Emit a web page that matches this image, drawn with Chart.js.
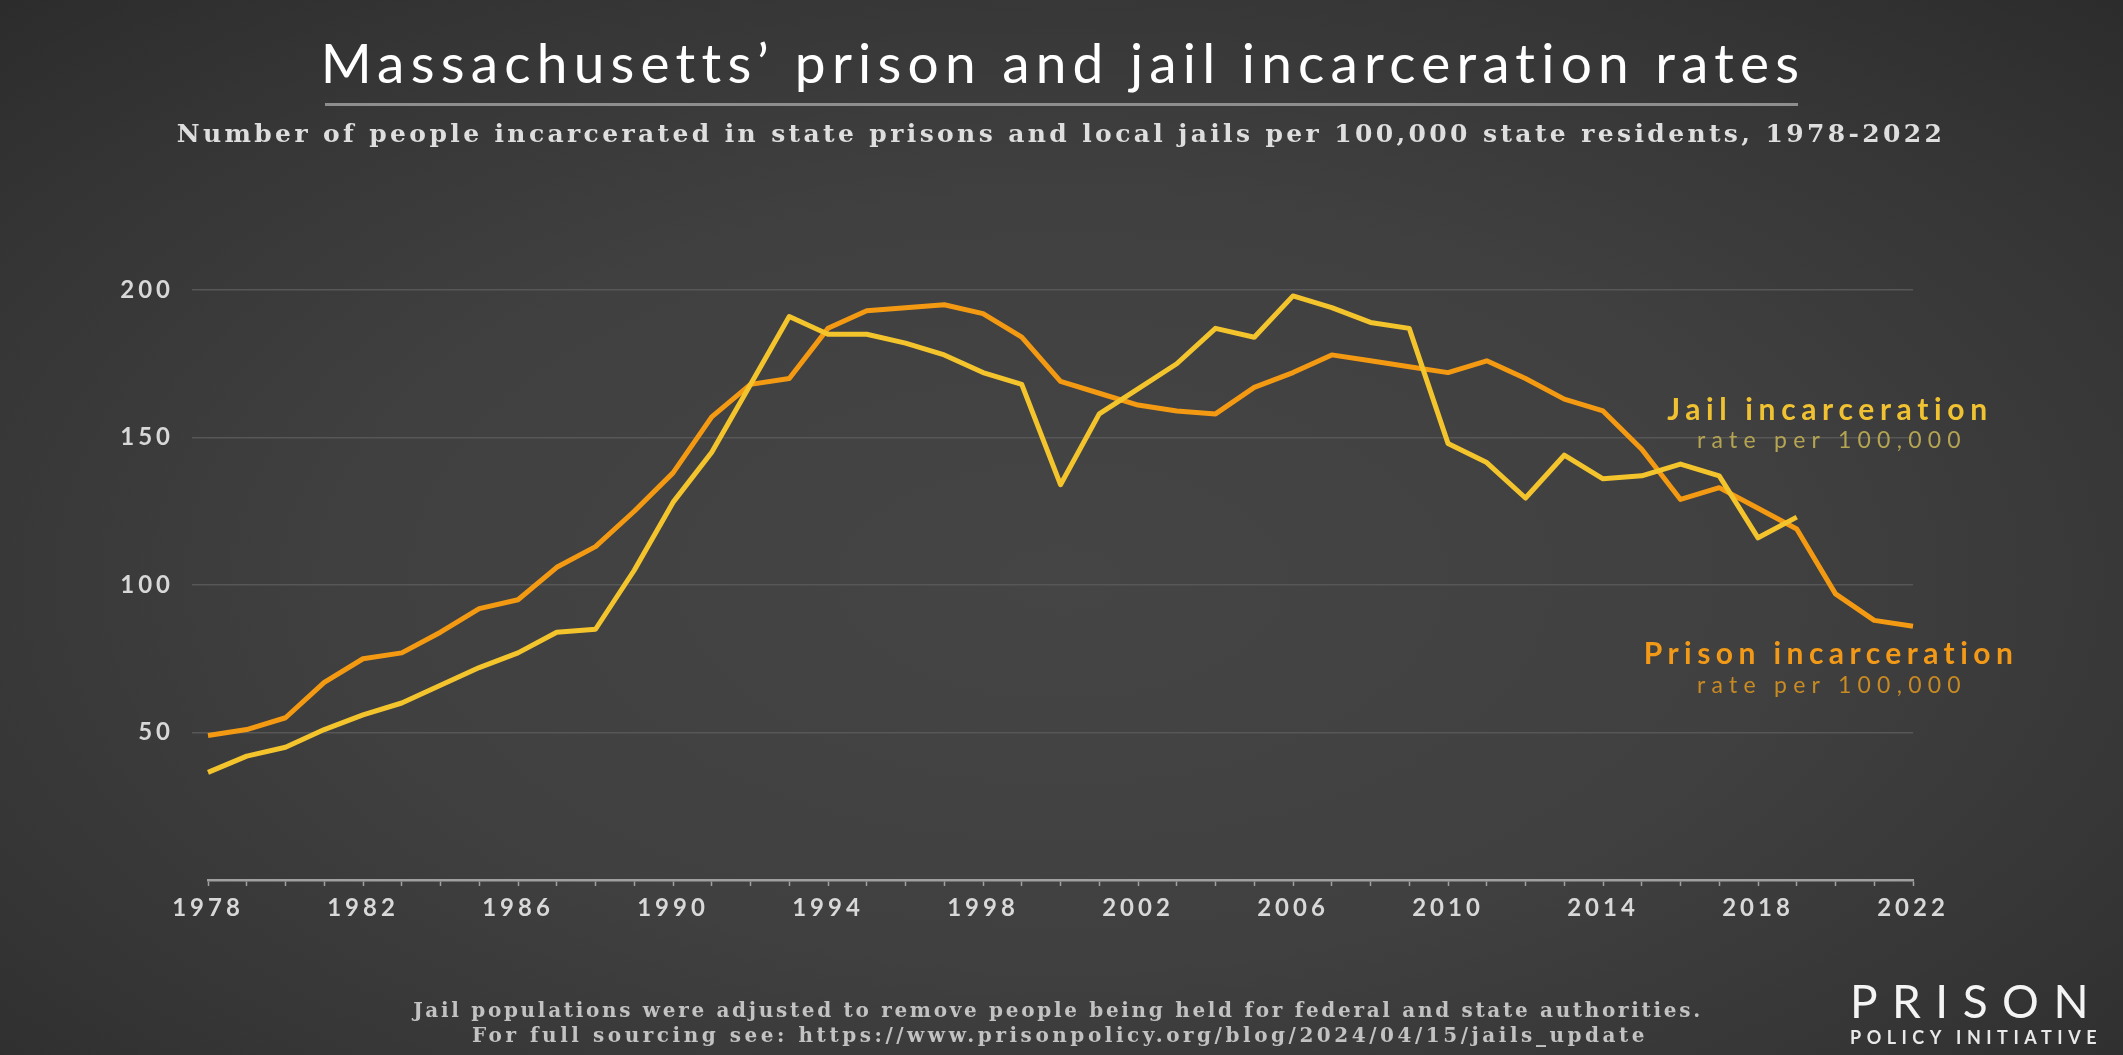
<!DOCTYPE html>
<html>
<head>
<meta charset="utf-8">
<script src="https://cdn.jsdelivr.net/npm/chart.js@4/dist/chart.umd.min.js"></script>
<style>
  html, body { margin: 0; padding: 0; }
  body {
    width: 2123px; height: 1055px; overflow: hidden; position: relative;
    background: radial-gradient(ellipse 75% 80% at 50% 55%, #454545 0%, #404040 45%, #353535 75%, #2a2a2a 100%);
    font-family: Lato, "Noto Sans", sans-serif;
  }
  #chart { position: absolute; left: 0; top: 0; }
  .txt { position: absolute; white-space: nowrap; line-height: 1; }
  .mid { transform: translateX(-50%); }
  #title { left: 1063px; top: 35px; font-size: 55px; color: #ffffff; }
  #rule { position: absolute; left: 325px; top: 103px; width: 1473px; height: 3px; background: #8e8e8e; }
  #subtitle { left: 1061px; top: 121px; font-family: "DejaVu Serif", serif; font-weight: bold; font-size: 25px; color: #dedede; }
  .note { font-family: "DejaVu Serif", serif; font-weight: bold; font-size: 20px; color: #c2c2c2; }
  #note1 { left: 1058px; top: 1000px; }
  #note2 { left: 1060px; top: 1025px; }
  .series { font-size: 30px; font-weight: bold; }
  .rate { font-size: 23px; }
  #jailName { left: 1830px; top: 393px; color: #f0c232; }
  #jailRate { left: 1832px; top: 428px; color: #b5a552; }
  #prisonName { left: 1831px; top: 637px; color: #f29a18; }
  #prisonRate { left: 1832px; top: 673px; color: #c88a22; }
  #logo1 { left: 1850px; top: 978px; font-size: 46px; color: #f4f4f4; }
  #logo2 { left: 1850px; top: 1028px; font-size: 18px; font-weight: bold; color: #e8e8e8; }
</style>
</head>
<body>
<canvas id="chart" width="2123" height="1055"></canvas>

<div id="title" class="txt mid">Massachusetts’ prison and jail incarceration rates</div>
<div id="rule"></div>
<div id="subtitle" class="txt mid">Number of people incarcerated in state prisons and local jails per 100,000 state residents, 1978-2022</div>

<div id="jailName" class="txt mid series">Jail incarceration</div>
<div id="jailRate" class="txt mid rate">rate per 100,000</div>
<div id="prisonName" class="txt mid series">Prison incarceration</div>
<div id="prisonRate" class="txt mid rate">rate per 100,000</div>

<div id="note1" class="txt mid note">Jail populations were adjusted to remove people being held for federal and state authorities.</div>
<div id="note2" class="txt mid note">For full sourcing see: https://www.prisonpolicy.org/blog/2024/04/15/jails_update</div>

<div id="logo1" class="txt">PRISON</div>
<div id="logo2" class="txt">POLICY INITIATIVE</div>

<script>
// rates per 100,000 residents
const years = [
  1978, 1979, 1980, 1981, 1982, 1983, 1984, 1985, 1986, 1987, 1988, 1989,
  1990, 1991, 1992, 1993, 1994, 1995, 1996, 1997, 1998, 1999, 2000, 2001,
  2002, 2003, 2004, 2005, 2006, 2007, 2008, 2009, 2010, 2011, 2012, 2013,
  2014, 2015, 2016, 2017, 2018, 2019, 2020, 2021, 2022
];
const prisonRates = [
  49, 51, 55, 67, 75, 77, 84, 92, 95, 106, 113, 125,
  138, 157, 168, 170, 187, 193, 194, 195, 192, 184, 169, 165,
  161, 159, 158, 167, 172, 178, 176, 174, 172, 176, 170, 163,
  159, 146, 129, 133, 126, 119, 97, 88, 86
];
const jailRates = [
  36.5, 42, 45, 51, 56, 60, 66, 72, 77, 84, 85, 105,
  128, 145, 168, 191, 185, 185, 182, 178, 172, 168, 134, 158,
  166.5, 175, 187, 184, 198, 194, 189, 187, 148, 141.5, 129.5, 144,
  136, 137, 141, 137, 116, 123, null, null, null
];
const yTicks = [0, 50, 100, 150, 200];

const JAIL_COLOR = "#f4c42c";
const PRISON_COLOR = "#f39a12";
const LABEL_COLOR = "#d8d8d8";

// stretch text to a given width with letter spacing
function fitWidth(id, width) {
  const el = document.getElementById(id);
  el.style.letterSpacing = "0px";
  const w = el.getBoundingClientRect().width;
  el.style.letterSpacing = ((width - w) / el.textContent.length).toFixed(2) + "px";
}

fitWidth("title", 1484);
fitWidth("subtitle", 1769);
fitWidth("note1", 1290);
fitWidth("note2", 1176);
fitWidth("jailName", 326);
fitWidth("jailRate", 270);
fitWidth("prisonName", 375);
fitWidth("prisonRate", 270);
fitWidth("logo1", 253);
fitWidth("logo2", 252);

// wide tracking on the axis numbers; canvas resets its state on resize,
// so set it again right before layout and drawing
const trackingPlugin = {
  id: "tracking",
  beforeUpdate(chart) {
    chart.ctx.letterSpacing = "4px";
  },
  beforeDraw(chart) {
    chart.ctx.letterSpacing = "4px";
  },
};

const ctx = document.querySelector("#chart");
const tickFont = { family: "Lato", size: 24, weight: "bold" };

new Chart(ctx, {
  type: "line",
  plugins: [trackingPlugin],
  data: {
    labels: years,
    datasets: [
      {
        label: "Jail incarceration",
        data: jailRates,
        borderColor: JAIL_COLOR,
        borderWidth: 5,
        pointRadius: 0,
        tension: 0,
        borderJoinStyle: "round",
      },
      {
        label: "Prison incarceration",
        data: prisonRates,
        borderColor: PRISON_COLOR,
        borderWidth: 5,
        pointRadius: 0,
        tension: 0,
        borderJoinStyle: "round",
      },
    ],
  },
  options: {
    responsive: false,
    animation: false,
    layout: { padding: { top: 290, right: 210, bottom: 0, left: 0 } },
    plugins: {
      legend: { display: false },
      tooltip: { enabled: false },
    },
    scales: {
      x: {
        grid: {
          drawOnChartArea: false,
          drawTicks: true,
          tickLength: 6,
          tickColor: "#a0a0a0",
          tickWidth: 1.5,
        },
        border: { color: "#a0a0a0", width: 2.5 },
        ticks: {
          autoSkip: false,
          maxRotation: 0,
          padding: 8,
          color: LABEL_COLOR,
          font: tickFont,
          callback: (value, index) => (index % 4 === 0 ? years[index] : ""),
        },
        afterFit: (scale) => {
          scale.height = 175;
        },
      },
      y: {
        min: yTicks[0],
        max: yTicks[yTicks.length - 1],
        afterBuildTicks: (scale) => {
          scale.ticks = yTicks.map((v) => ({ value: v }));
        },
        grid: {
          color: (c) => (c.tick && c.tick.value === 0 ? "rgba(0,0,0,0)" : "#575757"),
          lineWidth: 1.5,
          drawTicks: true,
          tickLength: 16,
        },
        border: { display: false },
        ticks: {
          padding: 18,
          color: LABEL_COLOR,
          font: tickFont,
          callback: (value) => (value === 0 ? "" : value),
        },
        afterFit: (scale) => {
          scale.width = 208;
        },
      },
    },
  },
});
</script>
</body>
</html>
